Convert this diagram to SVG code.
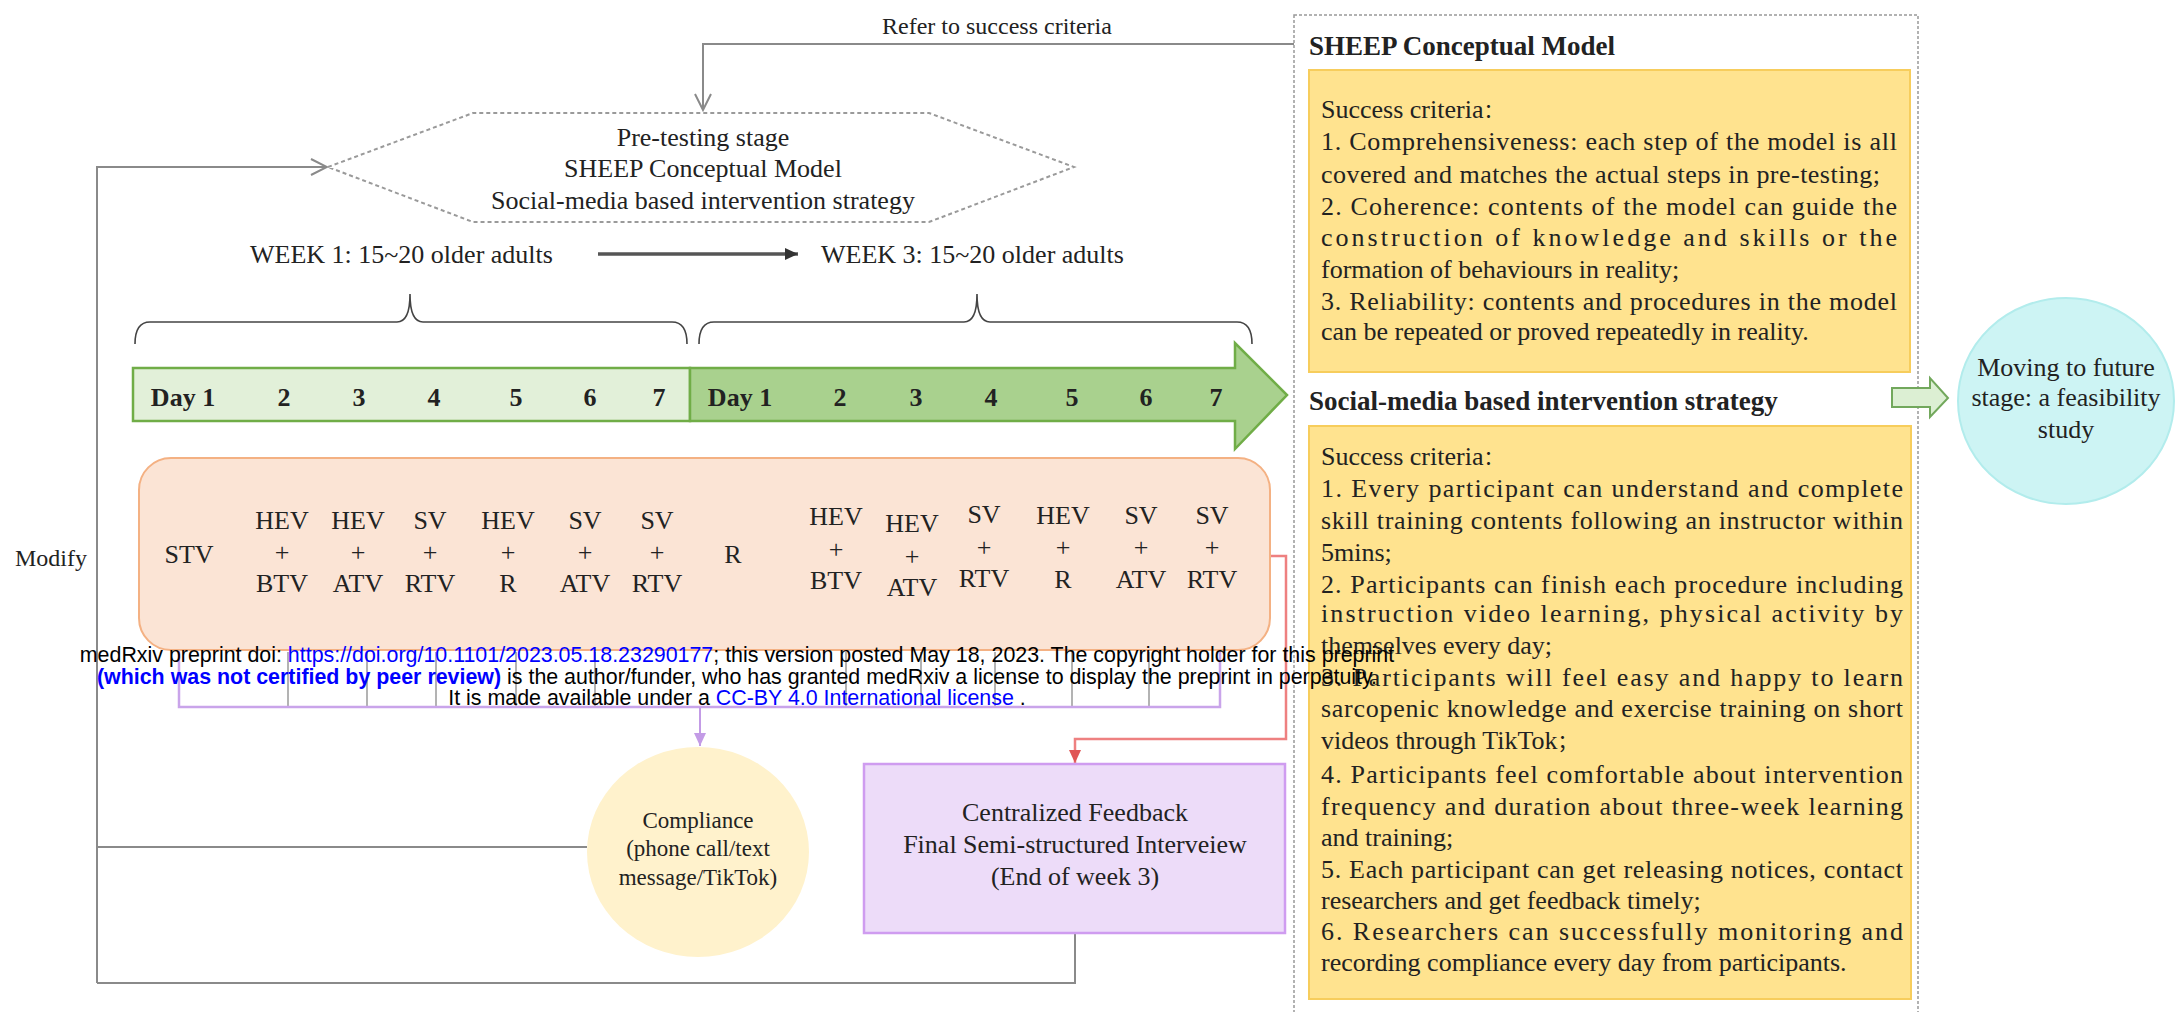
<svg xmlns="http://www.w3.org/2000/svg" width="2176" height="1012" viewBox="0 0 2176 1012">
<style>
  .t { font-family: "Liberation Serif", "Times New Roman", serif; fill: #222; }
  .c { text-anchor: middle; }
  .b { font-weight: bold; }
  .f26 { font-size: 26px; }
  .f24 { font-size: 24px; }
  .f23 { font-size: 23px; }
  .line { fill: none; stroke: #8a8a8a; stroke-width: 2; }
  .wm { font-family: "Liberation Sans", Arial, sans-serif; font-size: 21.4px; fill: #000; text-anchor: middle; }
  .blue { fill: #0000ff; }
  .tick { stroke: #9a9a9a; stroke-width: 1.5; }
</style>
<defs>
  <marker id="chev" viewBox="0 0 20 20" refX="18" refY="10" markerWidth="20" markerHeight="20" markerUnits="userSpaceOnUse" orient="auto">
    <path d="M2,2 L18,10 L2,18" fill="none" stroke="#8a8a8a" stroke-width="2"/>
  </marker>
  <marker id="arrDark" viewBox="0 0 14 14" refX="13" refY="7" markerWidth="14" markerHeight="14" markerUnits="userSpaceOnUse" orient="auto">
    <path d="M0,1 L13,7 L0,13 Z" fill="#333"/>
  </marker>
  <marker id="arrPurple" viewBox="0 0 14 14" refX="13" refY="7" markerWidth="14" markerHeight="14" markerUnits="userSpaceOnUse" orient="auto">
    <path d="M0,1 L13,7 L0,13 Z" fill="#c39be6"/>
  </marker>
  <marker id="arrRed" viewBox="0 0 14 14" refX="13" refY="7" markerWidth="14" markerHeight="14" markerUnits="userSpaceOnUse" orient="auto">
    <path d="M0,1 L13,7 L0,13 Z" fill="#e05555"/>
  </marker>
</defs>
<rect width="2176" height="1012" fill="#ffffff"/>

<!-- connectors -->
<g id="connectors">
  <path class="line" d="M1294,44 L703,44 L703,110" marker-end="url(#chev)"/>
  <path class="line" d="M97,983 L97,167 L327,167" marker-end="url(#chev)"/>
  <path class="line" d="M97,847 L587,847"/>
  <path class="line" d="M97,983 L1075,983 L1075,933"/>
  <path d="M598,254 L798,254" stroke="#555" stroke-width="3.5" fill="none" marker-end="url(#arrDark)"/>
  <!-- braces -->
  <path d="M135,344 Q135,322 150,322 L397,322 Q410,322 410,294 Q410,322 423,322 L672,322 Q687,322 687,344" fill="none" stroke="#444" stroke-width="1.6"/>
  <path d="M699,344 Q699,322 714,322 L964,322 Q977,322 977,294 Q977,322 990,322 L1237,322 Q1252,322 1252,344" fill="none" stroke="#444" stroke-width="1.6"/>
  <!-- purple bracket -->
  <g>
    <line class="tick" x1="288" y1="652" x2="288" y2="707"/>
    <line class="tick" x1="367" y1="652" x2="367" y2="707"/>
    <line class="tick" x1="436" y1="652" x2="436" y2="707"/>
    <line class="tick" x1="516" y1="652" x2="516" y2="707"/>
    <line class="tick" x1="595" y1="652" x2="595" y2="707"/>
    <line class="tick" x1="846" y1="652" x2="846" y2="707"/>
    <line class="tick" x1="921" y1="652" x2="921" y2="707"/>
    <line class="tick" x1="995" y1="652" x2="995" y2="707"/>
    <line class="tick" x1="1072" y1="652" x2="1072" y2="707"/>
    <line class="tick" x1="1149" y1="652" x2="1149" y2="707"/>
  </g>
  <path d="M179,650 L179,707 L1220,707 L1220,650" fill="none" stroke="#c9a4ea" stroke-width="2.5"/>
  <path d="M700,707 L700,746" fill="none" stroke="#c39be6" stroke-width="2" marker-end="url(#arrPurple)"/>
  <path d="M1270,556 L1286,556 L1286,739 L1075,739 L1075,763" fill="none" stroke="#ee8080" stroke-width="2.5" marker-end="url(#arrRed)"/>
</g>

<text class="t f24 c" x="997" y="34">Refer to success criteria</text>
<text class="t f24" x="15" y="566">Modify</text>

<!-- hexagon -->
<g id="pretest">
  <polygon points="328,167 473,113 929,113 1074,167 929,222 473,222" fill="#fff" stroke="#9a9a9a" stroke-width="2" stroke-dasharray="4,3"/>
  <text class="t f26 c" x="703" y="146">Pre-testing stage</text>
  <text class="t f26 c" x="703" y="177">SHEEP Conceptual Model</text>
  <text class="t f26 c" x="703" y="209">Social-media based intervention strategy</text>
</g>

<g id="weeks">
  <text class="t f26" x="250" y="263">WEEK 1: 15~20 older adults</text>
  <text class="t f26" x="821" y="263">WEEK 3: 15~20 older adults</text>
</g>

<!-- green timeline -->
<g id="timeline">
  <rect x="133" y="368" width="557" height="53" fill="#e2f0d9" stroke="#70ad47" stroke-width="2.5"/>
  <polygon points="690,368 1235,368 1235,343 1287,395 1235,449 1235,421 690,421" fill="#a9d18e" stroke="#70ad47" stroke-width="2.5"/>
  <g class="t f26 b c">
    <text x="183" y="406">Day 1</text>
    <text x="284" y="406">2</text>
    <text x="359" y="406">3</text>
    <text x="434" y="406">4</text>
    <text x="516" y="406">5</text>
    <text x="590" y="406">6</text>
    <text x="659" y="406">7</text>
    <text x="740" y="406">Day 1</text>
    <text x="840" y="406">2</text>
    <text x="916" y="406">3</text>
    <text x="991" y="406">4</text>
    <text x="1072" y="406">5</text>
    <text x="1146" y="406">6</text>
    <text x="1216" y="406">7</text>
  </g>
</g>

<!-- salmon schedule box -->
<g id="schedule">
  <rect x="139" y="458" width="1131" height="192" rx="32" fill="#fbe4d5" stroke="#f4b183" stroke-width="2"/>
  <g class="t f26 c">
    <text x="189" y="563">STV</text>
    <text x="282" y="529">HEV</text><text x="282" y="561">+</text><text x="282" y="592">BTV</text>
    <text x="358" y="529">HEV</text><text x="358" y="561">+</text><text x="358" y="592">ATV</text>
    <text x="430" y="529">SV</text><text x="430" y="561">+</text><text x="430" y="592">RTV</text>
    <text x="508" y="529">HEV</text><text x="508" y="561">+</text><text x="508" y="592">R</text>
    <text x="585" y="529">SV</text><text x="585" y="561">+</text><text x="585" y="592">ATV</text>
    <text x="657" y="529">SV</text><text x="657" y="561">+</text><text x="657" y="592">RTV</text>
    <text x="733" y="563">R</text>
    <text x="836" y="525">HEV</text><text x="836" y="558">+</text><text x="836" y="589">BTV</text>
    <text x="912" y="532">HEV</text><text x="912" y="565">+</text><text x="912" y="596">ATV</text>
    <text x="984" y="523">SV</text><text x="984" y="556">+</text><text x="984" y="587">RTV</text>
    <text x="1063" y="524">HEV</text><text x="1063" y="556">+</text><text x="1063" y="588">R</text>
    <text x="1141" y="524">SV</text><text x="1141" y="556">+</text><text x="1141" y="588">ATV</text>
    <text x="1212" y="524">SV</text><text x="1212" y="556">+</text><text x="1212" y="588">RTV</text>
  </g>
</g>

<!-- compliance -->
<g id="compliance">
  <ellipse cx="698" cy="852" rx="111" ry="105" fill="#fff2cc"/>
  <text class="t f23 c" x="698" y="828">Compliance</text>
  <text class="t f23 c" x="698" y="856">(phone call/text</text>
  <text class="t f23 c" x="698" y="885">message/TikTok)</text>
</g>

<!-- feedback -->
<g id="feedback">
  <rect x="864" y="764" width="421" height="169" fill="#eddcf9" stroke="#cf9cf0" stroke-width="2.5"/>
  <text class="t f26 c" x="1075" y="821">Centralized Feedback</text>
  <text class="t f26 c" x="1075" y="853">Final Semi-structured Interveiew</text>
  <text class="t f26 c" x="1075" y="885">(End of week 3)</text>
</g>

<!-- right panel -->
<g id="criteria-panel">
  <rect x="1294" y="15" width="624" height="1010" fill="none" stroke="#999" stroke-width="1.5" stroke-dasharray="3,2"/>
  <text class="t b" font-size="27" x="1309" y="55">SHEEP Conceptual Model</text>
  <rect x="1309" y="70" width="601" height="302" fill="#ffe38f" stroke="#f7cd5c" stroke-width="2"/>
  <g class="t f26">
    <text x="1321" y="118">Success criteria<tspan font-family="'Noto Sans CJK SC', sans-serif" font-size="20">：</tspan></text>
    <text x="1321" y="150" textLength="576" lengthAdjust="spacing">1. Comprehensiveness: each step of the model is all</text>
    <text x="1321" y="183" textLength="559" lengthAdjust="spacing">covered and matches the actual steps in pre-testing;</text>
    <text x="1321" y="215" textLength="576" lengthAdjust="spacing">2. Coherence: contents of the model can guide the</text>
    <text x="1321" y="246" textLength="576" lengthAdjust="spacing">construction of knowledge and skills or the</text>
    <text x="1321" y="278">formation of behaviours in reality;</text>
    <text x="1321" y="310" textLength="576" lengthAdjust="spacing">3. Reliability: contents and procedures in the model</text>
    <text x="1321" y="340">can be repeated or proved repeatedly in reality.</text>
  </g>

  <text class="t b" font-size="27" x="1309" y="410">Social-media based intervention strategy</text>
  <rect x="1309" y="426" width="602" height="573" fill="#ffe38f" stroke="#f7cd5c" stroke-width="2"/>
  <g class="t f26">
    <text x="1321" y="465">Success criteria<tspan font-family="'Noto Sans CJK SC', sans-serif" font-size="20">：</tspan></text>
    <text x="1321" y="497" textLength="582" lengthAdjust="spacing">1. Every participant can understand and complete</text>
    <text x="1321" y="529" textLength="582" lengthAdjust="spacing">skill training contents following an instructor within</text>
    <text x="1321" y="561">5mins;</text>
    <text x="1321" y="593" textLength="582" lengthAdjust="spacing">2. Participants can finish each procedure including</text>
    <text x="1321" y="622" textLength="582" lengthAdjust="spacing">instruction video learning, physical activity by</text>
    <text x="1321" y="654">themselves every day;</text>
    <text x="1321" y="686" textLength="582" lengthAdjust="spacing">3. Participants will feel easy and happy to learn</text>
    <text x="1321" y="717" textLength="582" lengthAdjust="spacing">sarcopenic knowledge and exercise training on short</text>
    <text x="1321" y="749">videos through TikTok<tspan font-family="'Noto Sans CJK SC', sans-serif" font-size="20">；</tspan></text>
    <text x="1321" y="783" textLength="582" lengthAdjust="spacing">4. Participants feel comfortable about intervention</text>
    <text x="1321" y="815" textLength="582" lengthAdjust="spacing">frequency and duration about three-week  learning</text>
    <text x="1321" y="846">and training;</text>
    <text x="1321" y="878" textLength="582" lengthAdjust="spacing">5. Each participant can get releasing notices, contact</text>
    <text x="1321" y="909">researchers and get feedback timely;</text>
    <text x="1321" y="940" textLength="582" lengthAdjust="spacing">6. Researchers can successfully monitoring and</text>
    <text x="1321" y="971">recording compliance every day from participants.</text>
  </g>
</g>

<g id="to-future">
  <polygon points="1892,388 1930,388 1930,378 1948,398 1930,417 1930,407 1892,407" fill="#dcefd3" stroke="#72a85c" stroke-width="2"/>
</g>

<g id="future">
  <ellipse cx="2066" cy="401" rx="108" ry="103" fill="#cdf4f4" stroke="#b2ecec" stroke-width="2"/>
  <text class="t f26 c" x="2066" y="376">Moving to future</text>
  <text class="t f26 c" x="2066" y="406">stage: a feasibility</text>
  <text class="t f26 c" x="2066" y="438">study</text>
</g>

<!-- medRxiv overlay -->
<g id="watermark">
  <text class="wm" x="737" y="662">medRxiv preprint doi: <tspan class="blue">https://doi.org/10.1101/2023.05.18.23290177</tspan>; this version posted May 18, 2023. The copyright holder for this preprint</text>
  <text class="wm" x="737" y="684"><tspan class="blue" font-weight="bold">(which was not certified by peer review)</tspan> is the author/funder, who has granted medRxiv a license to display the preprint in perpetuity.</text>
  <text class="wm" x="737" y="705">It is made available under a <tspan class="blue">CC-BY 4.0 International license</tspan> .</text>
</g>
</svg>
